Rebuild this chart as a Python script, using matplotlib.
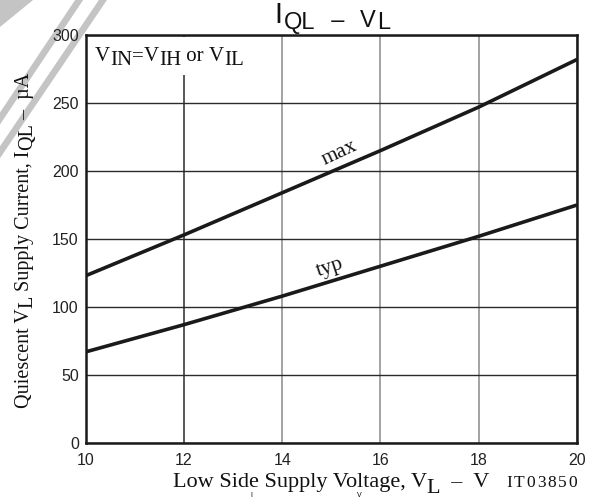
import matplotlib
matplotlib.use("Agg")
import matplotlib.pyplot as plt
from matplotlib.font_manager import FontProperties
from matplotlib.transforms import offset_copy
from matplotlib.lines import Line2D
from matplotlib.patches import Polygon, Rectangle

# Data
v_l = [10, 12, 14, 16, 18, 20]
iql_max = [123, 153, 184, 215, 247, 282]
iql_typ = [67, 87, 108, 130, 152, 175]

x_ticks = [10, 12, 14, 16, 18, 20]
y_ticks = [0, 50, 100, 150, 200, 250, 300]

SERIF = "Liberation Serif"
SANS = "Liberation Sans"

fig = plt.figure(figsize=(6.01, 5.0), dpi=100)
ax = fig.add_axes([0.1426, 0.114, 0.8175, 0.816])
renderer = fig.canvas.get_renderer()


def text_width(s, prop):
    # width in points, trailing/leading spaces included
    w_all = renderer.get_text_width_height_descent("x" + s + "x", prop, ismath=False)[0]
    w_xx = renderer.get_text_width_height_descent("xx", prop, ismath=False)[0]
    return (w_all - w_xx) * 72.0 / fig.dpi


def rich_text(x, y, pieces, family, size, rotation=0, ha="center",
              base=None, track=0.0, zorder=3):
    # pieces: (text, shift_down_pt) or (text, shift_down_pt, fontsize)
    if base is None:
        base = fig.transFigure
    items = []
    total = 0.0
    for p in pieces:
        s, shift = p[0], p[1]
        sz = p[2] if len(p) > 2 else size
        w = text_width(s, FontProperties(family=family, size=sz))
        items.append((s, shift, sz, w))
        total += w
    total += track * (len(items) - 1)
    pos = {"left": 0.0, "center": -total / 2, "right": -total}[ha]
    if rotation == 90:
        along, down = (0, 1), (1, 0)
    else:
        along, down = (1, 0), (0, -1)
    for s, shift, sz, w in items:
        dx = pos * along[0] + shift * down[0]
        dy = pos * along[1] + shift * down[1]
        tr = offset_copy(base, fig=fig, x=dx, y=dy, units="points")
        fig.text(x, y, s, transform=tr, ha="left", va="baseline",
                 rotation=rotation, rotation_mode="anchor",
                 fontsize=sz, family=family, color="#111", zorder=zorder)
        pos += w + track


# curves
ax.plot(v_l, iql_max, color="#1a1a1a", lw=2.6, solid_capstyle="butt", zorder=3)
ax.plot(v_l, iql_typ, color="#1a1a1a", lw=2.6, solid_capstyle="butt", zorder=3)

ax.set_xlim(10, 20)
ax.set_ylim(0, 300)
ax.set_xticks(x_ticks)
ax.set_yticks(y_ticks)
ax.tick_params(length=0, labelsize=11.5, labelcolor="#222")
ax.tick_params(axis="x", pad=7)
ax.tick_params(axis="y", pad=5)
for lab in ax.get_xticklabels() + ax.get_yticklabels():
    lab.set_family(SANS)

ax.set_axisbelow(True)
ax.grid(axis="y", color="#2a2a2a", lw=1.0)
ax.grid(axis="x", color="#8a8a8a", lw=1.1)
ax.xaxis.get_gridlines()[1].set_color("#2a2a2a")
for sp in ax.spines.values():
    sp.set_linewidth(1.8)
    sp.set_color("#1a1a1a")

# curve labels
ax.text(15.17, 213, "max", rotation=25, rotation_mode="anchor", ha="center",
        va="center", family=SERIF, fontsize=15.5, color="#111")
ax.text(14.97, 129, "typ", rotation=18, rotation_mode="anchor", ha="center",
        va="center", family=SERIF, fontsize=15.5, color="#111")

# condition box
ax.add_patch(Rectangle((0.004, 0.902), 0.34, 0.094, transform=ax.transAxes,
                       facecolor="white", edgecolor="none", zorder=1.5))
rich_text(0.019, 0.936,
          [("V", 0), ("IN", 3), ("=", 0), ("V", 0), ("IH", 3), (" or ", 0),
           ("V", 0), ("IL", 3)],
          SERIF, 15, ha="left", base=ax.transAxes)

# title (top partly cut off)
rich_text(0.553, 0.954,
          [("I", 0, 21), ("QL", 4, 17), ("  \u2013  ", 3, 17), ("V", 3, 17),
           ("L", 4.5, 17)],
          SANS, 17, track=1.5)

# axis labels
rich_text(0.551, 0.026,
          [("Low Side Supply Voltage, V", 0), ("L", 4), ("  \u2013  V", 0)],
          SERIF, 16)
rich_text(0.048, 0.52,
          [("Quiescent V", 0), ("L", 2.5), (" Supply Current, I", 0),
           ("QL", 2.5), (" \u2013  \u00b5A", 0)],
          SERIF, 14.5, rotation=90)
rich_text(0.960, 0.026, [(c, 0) for c in "IT03850"], SERIF, 12.5,
          ha="right", track=1.3)

# pieces of the next figure's title, cut by the page edge
fig.text(0.416, 0.002, "I", family=SANS, fontsize=5, va="bottom", ha="left")
fig.text(0.594, 0.002, "V", family=SANS, fontsize=5, va="bottom", ha="left")

# diagonal watermark stripes, behind everything
stripe = "#c4c4c4"
fig.add_artist(Polygon([(0, 1), (0.055, 1), (0, 0.946)], closed=True,
                       transform=fig.transFigure, facecolor=stripe,
                       edgecolor="none", zorder=-1))
fig.add_artist(Line2D([0.165, -0.02], [1.06, 0.727], transform=fig.transFigure,
                      color=stripe, lw=4.8, zorder=-1))
fig.add_artist(Line2D([0.205, -0.02], [1.06, 0.66], transform=fig.transFigure,
                      color=stripe, lw=4.8, zorder=-1))

fig.savefig("out.png", dpi=100)
